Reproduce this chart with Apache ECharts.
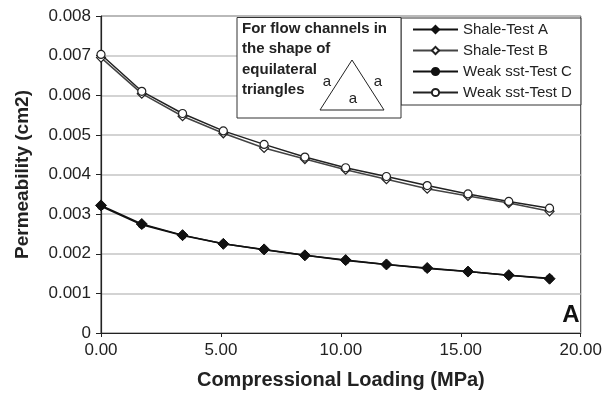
<!DOCTYPE html>
<html>
<head>
<meta charset="utf-8">
<script src="https://cdn.jsdelivr.net/npm/echarts@6/dist/echarts.min.js"></script>
<style>
  html, body { margin: 0; padding: 0; background: #fff; }
  #chart { width: 605px; height: 397px; }
</style>
</head>
<body>
<div id="chart"></div>
<script>
// Compressional loading (MPa) at each measurement step
const loading = [0, 1.70, 3.40, 5.10, 6.80, 8.50, 10.20, 11.90, 13.60, 15.30, 17.00, 18.70];

// Permeability (cm2) for each test
const shaleA = [0.00322, 0.00275, 0.00247, 0.00225, 0.00211, 0.00196, 0.00184, 0.00173, 0.00164, 0.00155, 0.00146, 0.00137];
const shaleB = [0.00695, 0.00604, 0.00547, 0.00504, 0.00467, 0.00439, 0.00412, 0.00388, 0.00364, 0.00346, 0.00328, 0.00307];
const weakC  = [0.00320, 0.00273, 0.00246, 0.00225, 0.00210, 0.00196, 0.00183, 0.00173, 0.00163, 0.00155, 0.00146, 0.00138];
const weakD  = [0.00703, 0.00610, 0.00554, 0.00510, 0.00476, 0.00444, 0.00417, 0.00395, 0.00372, 0.00351, 0.00332, 0.00315];

const seriesNames = ['Shale-Test A', 'Shale-Test B', 'Weak sst-Test C', 'Weak sst-Test D'];

// Note box text lines
const noteLines = ['For flow channels in', 'the shape of', 'equilateral', 'triangles'];

const pairs = (ys) => loading.map((x, i) => [x, ys[i]]);

const chart = echarts.init(document.getElementById('chart'), null, { renderer: 'canvas' });

const font = 'Liberation Sans, Arial, Helvetica, sans-serif';

chart.setOption({
  animation: false,
  backgroundColor: '#ffffff',
  textStyle: { fontFamily: font },
  grid: {
    left: 101, right: 19, top: 16, bottom: 64,
    show: true, borderColor: '#333', borderWidth: 1, backgroundColor: 'transparent'
  },
  xAxis: {
    type: 'value', min: 0, max: 20, interval: 5,
    name: 'Compressional Loading (MPa)', nameLocation: 'middle', nameGap: 37,
    nameTextStyle: { fontSize: 20, fontWeight: 'bold', color: '#222', fontFamily: font },
    axisLine: { lineStyle: { color: '#222', width: 1.2 } },
    axisTick: { show: true, length: 4, lineStyle: { color: '#222' } },
    axisLabel: { fontSize: 17, color: '#222', margin: 9, formatter: v => v.toFixed(2) },
    splitLine: { show: false }
  },
  yAxis: {
    type: 'value', min: 0, max: 0.008, interval: 0.001,
    name: 'Permeability (cm2)', nameLocation: 'middle', nameGap: 69, nameRotate: 90,
    nameTextStyle: { fontSize: 19, fontWeight: 'bold', color: '#222', fontFamily: font },
    axisLine: { show: true, lineStyle: { color: '#222', width: 1.2 } },
    axisTick: { show: true, length: 5, lineStyle: { color: '#222' } },
    axisLabel: { fontSize: 17, color: '#222', margin: 10, formatter: v => (v === 0 ? '0' : v.toFixed(3)) },
    splitLine: { show: true, lineStyle: { color: '#c4c4c4', width: 1.5 } }
  },
  legend: {
    orient: 'vertical', left: 401, top: 18,
    data: seriesNames,
    itemWidth: 45, itemHeight: 9, itemGap: 6,
    padding: [4, 9, 5, 11],
    borderColor: '#333', borderWidth: 1, backgroundColor: '#fff',
    textStyle: { fontSize: 15, color: '#222', fontFamily: font }
  },
  series: [
    {
      name: seriesNames[0], type: 'line', data: pairs(shaleA), z: 4,
      symbol: 'diamond', symbolSize: 11,
      lineStyle: { color: '#111', width: 1.5 },
      itemStyle: { color: '#111', borderColor: '#111', borderWidth: 1 }
    },
    {
      name: seriesNames[1], type: 'line', data: pairs(shaleB), z: 3,
      symbol: 'diamond', symbolSize: 9,
      lineStyle: { color: '#444', width: 1.5 },
      itemStyle: { color: '#fff', borderColor: '#222', borderWidth: 1.2 }
    },
    {
      name: seriesNames[2], type: 'line', data: pairs(weakC), z: 3,
      symbol: 'circle', symbolSize: 7,
      lineStyle: { color: '#111', width: 1.5 },
      itemStyle: { color: '#111', borderColor: '#111', borderWidth: 1 }
    },
    {
      name: seriesNames[3], type: 'line', data: pairs(weakD), z: 4,
      symbol: 'circle', symbolSize: 8,
      lineStyle: { color: '#222', width: 1.5 },
      itemStyle: { color: '#fff', borderColor: '#222', borderWidth: 1.2 }
    }
  ],
  graphic: [
    {
      type: 'rect', z: 10,
      shape: { x: 237, y: 17.5, width: 164, height: 100.5 },
      style: { fill: '#fff', stroke: '#333', lineWidth: 1 }
    },
    ...noteLines.map((t, i) => ({
      type: 'text', z: 11, left: 242, top: 21 + i * 20.5,
      style: { text: t, font: 'bold 15px ' + font, fill: '#222' }
    })),
    {
      type: 'polygon', z: 11,
      shape: { points: [[352, 60], [320, 110], [384, 110]] },
      style: { fill: 'none', stroke: '#222', lineWidth: 1 }
    },
    { type: 'text', z: 11, x: 327, y: 82, style: { text: 'a', font: '15px ' + font, fill: '#222', align: 'center', verticalAlign: 'middle' } },
    { type: 'text', z: 11, x: 378, y: 82, style: { text: 'a', font: '15px ' + font, fill: '#222', align: 'center', verticalAlign: 'middle' } },
    { type: 'text', z: 11, x: 353, y: 99, style: { text: 'a', font: '15px ' + font, fill: '#222', align: 'center', verticalAlign: 'middle' } },
    {
      type: 'text', z: 11, x: 571, y: 315,
      style: { text: 'A', font: 'bold 24px ' + font, fill: '#111', align: 'center', verticalAlign: 'middle' }
    }
  ]
});
</script>
</body>
</html>
